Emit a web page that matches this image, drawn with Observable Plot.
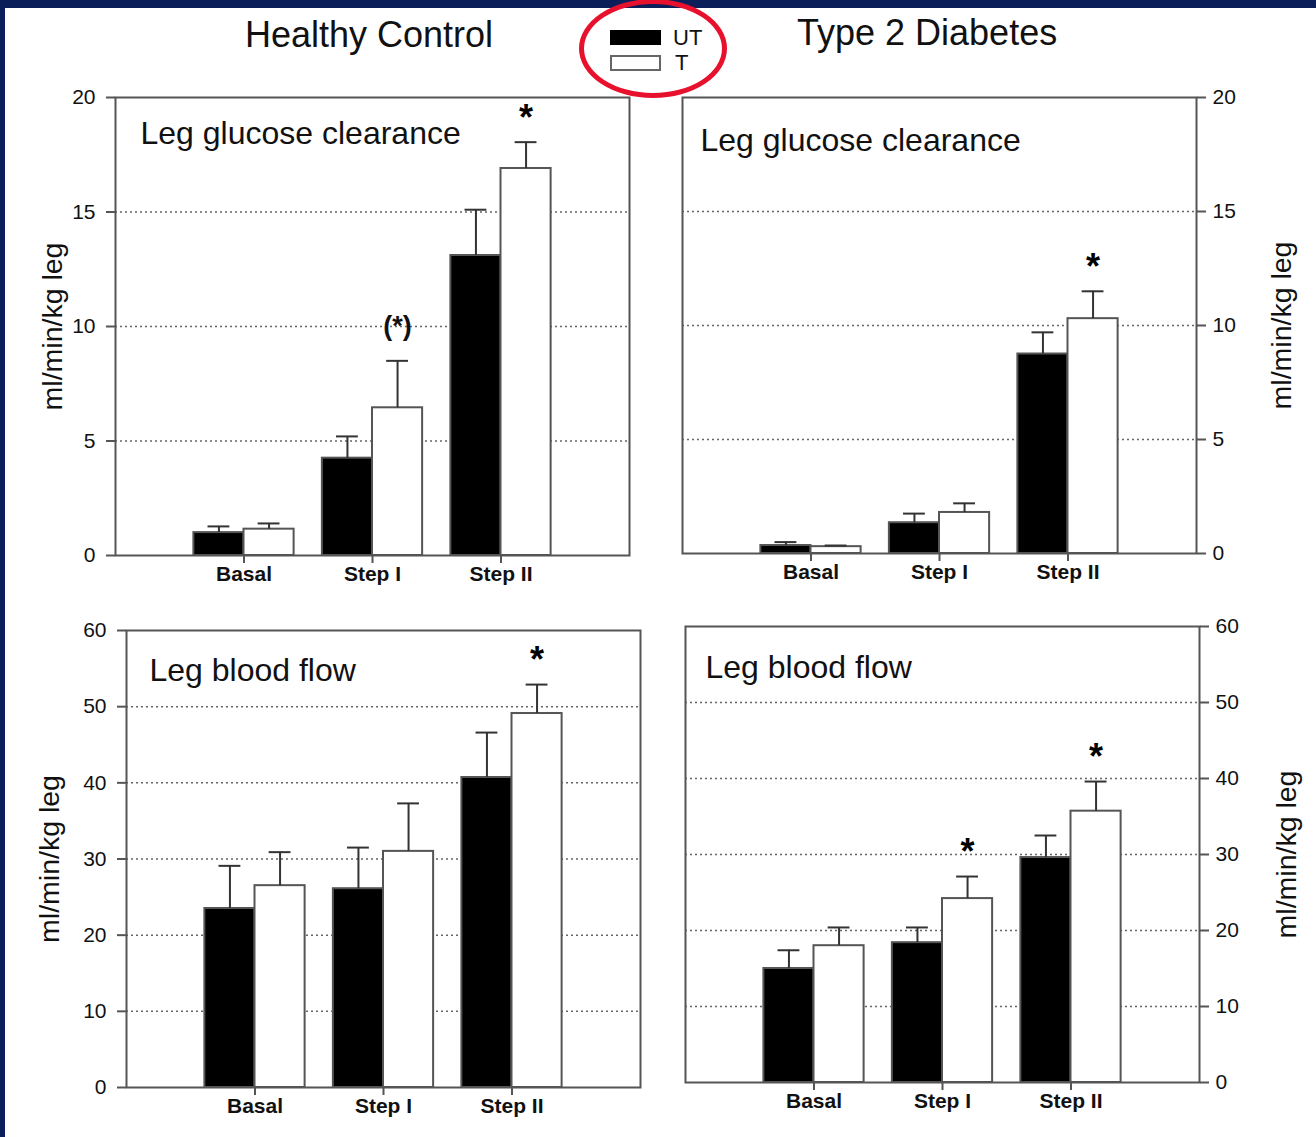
<!DOCTYPE html>
<html>
<head>
<meta charset="utf-8">
<script src="https://cdn.jsdelivr.net/npm/d3@7"></script>
<script src="https://cdn.jsdelivr.net/npm/@observablehq/plot@0.6"></script>
<style>
  body { margin: 0; background: #fff; }
  #page { position: relative; width: 1316px; height: 1137px; background: #fff; overflow: hidden;
          font-family: "Liberation Sans", Arial, sans-serif; color: #111; }
  #navyTop { position: absolute; left: 0; top: 0; width: 1316px; height: 8px; background: #0a1e5a; }
  #navyLeft { position: absolute; left: 0; top: 0; width: 5px; height: 1137px; background: #0a1e5a; }
  .head { position: absolute; font-size: 36px; line-height: 1; white-space: nowrap; }
  .leg { position: absolute; font-size: 22px; line-height: 1; }
  .sw { position: absolute; box-sizing: border-box; }
  #ring { position: absolute; left: 579px; top: -1px; width: 148px; height: 99px; box-sizing: border-box;
          border: 5px solid #e8112d; border-radius: 50%; z-index: 5; }
  .panel { position: absolute; }
</style>
</head>
<body>
<div id="page">
  <div id="navyTop"></div>
  <div id="navyLeft"></div>
  <div class="head" style="left:245px; top:17px;">Healthy Control</div>
  <div class="head" style="left:797px; top:15px;">Type 2 Diabetes</div>
  <div class="sw" style="left:610px; top:30px; width:51px; height:15px; background:#000;"></div>
  <div class="leg" style="left:673px; top:27px;">UT</div>
  <div class="sw" style="left:610px; top:55px; width:51px; height:16px; background:#fff; border:2px solid #666;"></div>
  <div class="leg" style="left:675px; top:52px;">T</div>
  <div id="ring"></div>
  <div id="p1" class="panel" style="left:0px; top:60px;"></div>
  <div id="p2" class="panel" style="left:656px; top:60px;"></div>
  <div id="p3" class="panel" style="left:0px; top:590px;"></div>
  <div id="p4" class="panel" style="left:656px; top:590px;"></div>
</div>
<script>
// ---- data ----
const categories = ["Basal", "Step I", "Step II"];
const series = ["UT", "T"];

const hcGlucoseUT    = [1.0, 4.25, 13.1];
const hcGlucoseUTErr = [0.27, 0.95, 2.0];
const hcGlucoseT     = [1.15, 6.45, 16.9];
const hcGlucoseTErr  = [0.25, 2.05, 1.15];
const hcGlucoseSig   = ["", "(*)", "*"];

const t2dGlucoseUT    = [0.35, 1.35, 8.75];
const t2dGlucoseUTErr = [0.15, 0.4, 0.95];
const t2dGlucoseT     = [0.3, 1.8, 10.3];
const t2dGlucoseTErr  = [0.05, 0.4, 1.2];
const t2dGlucoseSig   = ["", "", "*"];

const hcFlowUT    = [23.5, 26.1, 40.7];
const hcFlowUTErr = [5.6, 5.4, 5.9];
const hcFlowT     = [26.5, 31.0, 49.1];
const hcFlowTErr  = [4.4, 6.3, 3.8];
const hcFlowSig   = ["", "", "*"];

const t2dFlowUT    = [15.0, 18.4, 29.6];
const t2dFlowUTErr = [2.4, 2.0, 2.9];
const t2dFlowT     = [18.0, 24.2, 35.7];
const t2dFlowTErr  = [2.4, 2.9, 3.9];
const t2dFlowSig   = ["", "*", "*"];

const glucoseTicks = [0, 5, 10, 15, 20];
const flowTicks = [0, 10, 20, 30, 40, 50, 60];
const yLabel = "ml/min/kg leg";

// ---- chart ----
const FONT = "'Liberation Sans', Arial, sans-serif";
const BW = 0.39;   // bar width in category steps
const CAP = 0.085; // half cap width

function rowsOf(ut, utErr, t, tErr, sig) {
  const rows = [];
  categories.forEach((c, i) => {
    rows.push({i, cat: c, series: series[0], value: ut[i], err: utErr[i], sig: "",
               x1: i - BW, x2: i, center: i - BW / 2});
    rows.push({i, cat: c, series: series[1], value: t[i], err: tErr[i], sig: sig[i],
               x1: i, x2: i + BW, center: i + BW / 2});
  });
  return rows;
}

function panel(el, o) {
  const rows = rowsOf(o.ut, o.utErr, o.t, o.tErr, o.sig);
  const yMax = o.ticks[o.ticks.length - 1];
  const chart = Plot.plot({
    width: 660, height: 540,
    marginLeft: o.ml, marginRight: o.mr, marginTop: o.mt, marginBottom: o.mb,
    style: {fontFamily: FONT, fontSize: "21px", color: "#111", background: "transparent", overflow: "visible"},
    x: {domain: [-1, 3], axis: null},
    y: {domain: [0, yMax], axis: null},
    marks: [
      Plot.gridY(o.ticks.filter(v => v > 0 && v < yMax), {stroke: "#666", strokeOpacity: 1, strokeDasharray: "2,3", strokeWidth: 1.5}),
      Plot.rectY(rows, {x1: "x1", x2: "x2", y: "value", fill: d => d.series === "UT" ? "#000" : "#fff", stroke: "#555", strokeWidth: 2}),
      Plot.ruleX(rows, {x: "center", y1: "value", y2: d => d.value + d.err, stroke: "#333", strokeWidth: 2}),
      Plot.ruleY(rows, {y: d => d.value + d.err, x1: d => d.center - CAP, x2: d => d.center + CAP, stroke: "#333", strokeWidth: 2}),
      Plot.text(rows.filter(d => d.sig === "*"), {x: "center", y: d => d.value + d.err, text: "sig", dy: -24,
        lineAnchor: "middle", fontSize: 36, fontWeight: "bold", fill: "#000"}),
      Plot.text(rows.filter(d => d.sig === "(*)"), {x: "center", y: d => d.value + d.err, text: "sig", dy: -34,
        lineAnchor: "middle", fontSize: 27, fontWeight: "bold", fill: "#111"}),
      Plot.frame({stroke: "#555", strokeWidth: 2}),
      Plot.axisY({anchor: o.side, ticks: o.ticks, tickFormat: d => String(d), tickSize: 9,
        tickPadding: o.side === "left" ? 11 : 7,
        stroke: "#555", strokeWidth: 2, label: null, fontSize: 21}),
      Plot.axisY({anchor: o.side, ticks: [], label: yLabel, labelAnchor: "center", labelArrow: "none",
        labelOffset: o.lo, dy: o.ldy, fontSize: 28.5}),
      Plot.axisX({ticks: [0, 1, 2], tickFormat: i => categories[i], tickSize: 8, tickPadding: 3,
        stroke: "#555", strokeWidth: 2, label: null, fontSize: 21, fontWeight: "bold"}),
      Plot.text([o.title], {frameAnchor: "top-left", dx: o.tdx, dy: o.tdy, lineAnchor: "bottom", fontSize: 32, fill: "#111"})
    ]
  });
  document.getElementById(el).appendChild(chart);
}

panel("p1", {ut: hcGlucoseUT, utErr: hcGlucoseUTErr, t: hcGlucoseT, tErr: hcGlucoseTErr, sig: hcGlucoseSig,
  ticks: glucoseTicks, side: "left", ml: 115, mr: 31, mt: 37, mb: 45, lo: 74, ldy: -12, title: "Leg glucose clearance", tdx: 25, tdy: 46});
panel("p2", {ut: t2dGlucoseUT, utErr: t2dGlucoseUTErr, t: t2dGlucoseT, tErr: t2dGlucoseTErr, sig: t2dGlucoseSig,
  ticks: glucoseTicks, side: "right", ml: 26, mr: 120, mt: 37, mb: 47, lo: 94, ldy: -3, title: "Leg glucose clearance", tdx: 18, tdy: 53});
panel("p3", {ut: hcFlowUT, utErr: hcFlowUTErr, t: hcFlowT, tErr: hcFlowTErr, sig: hcFlowSig,
  ticks: flowTicks, side: "left", ml: 126, mr: 20, mt: 40, mb: 43, lo: 88, ldy: 0, title: "Leg blood flow", tdx: 23, tdy: 50});
panel("p4", {ut: t2dFlowUT, utErr: t2dFlowUTErr, t: t2dFlowT, tErr: t2dFlowTErr, sig: t2dFlowSig,
  ticks: flowTicks, side: "right", ml: 29, mr: 117, mt: 36, mb: 48, lo: 96, ldy: -2, title: "Leg blood flow", tdx: 20, tdy: 51});
</script>
</body>
</html>
